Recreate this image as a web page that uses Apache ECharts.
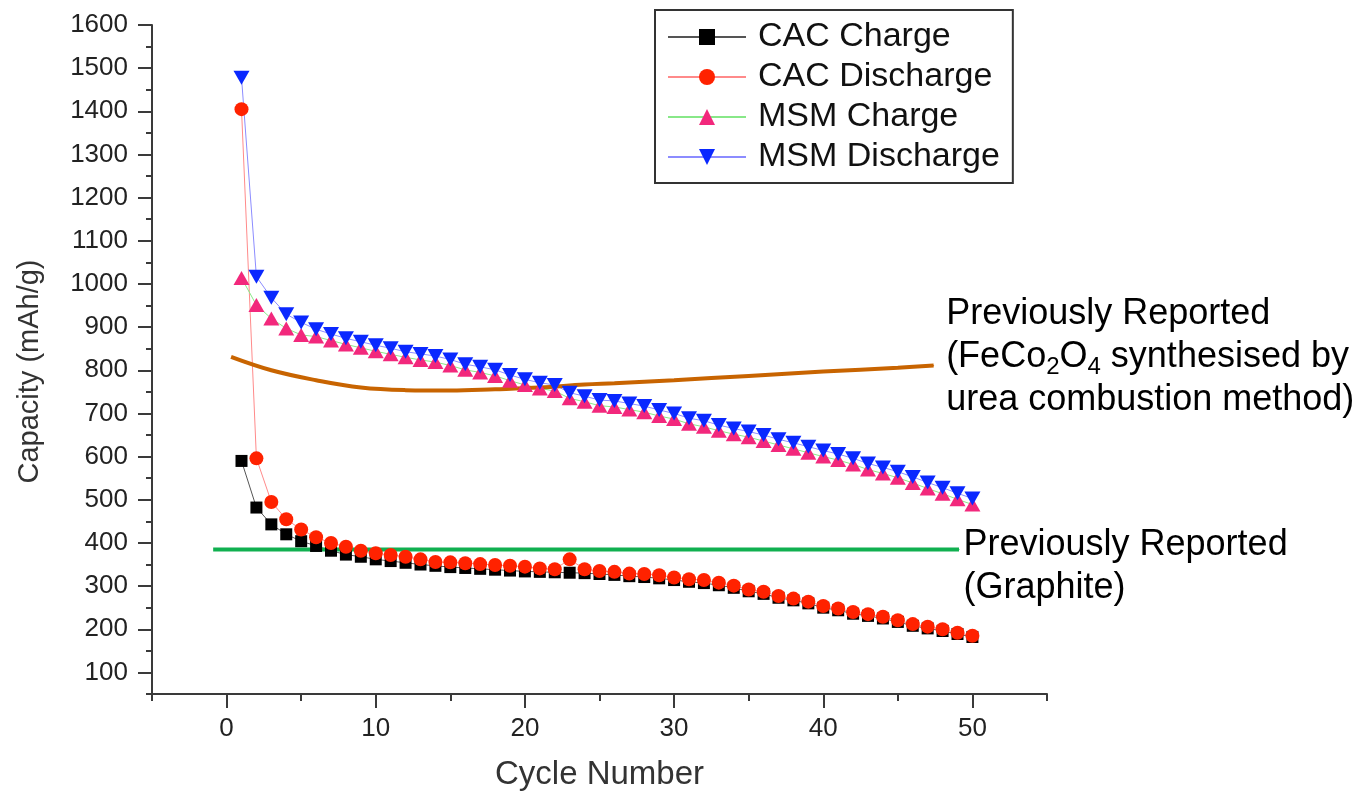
<!DOCTYPE html>
<html>
<head>
<meta charset="utf-8">
<title>Capacity vs Cycle Number</title>
<script src="https://cdn.jsdelivr.net/npm/echarts@6/dist/echarts.min.js"></script>
<style>
    html, body { margin: 0; padding: 0; background: #fff; }
    #main { width: 1370px; height: 796px; }
</style>
</head>
<body>
<div id="main"></div>
<script>
    // cycle numbers
    var cycles = [1, 2, 3, 4, 5, 6, 7, 8, 9, 10, 11, 12, 13, 14, 15, 16, 17, 18, 19, 20,
        21, 22, 23, 24, 25, 26, 27, 28, 29, 30, 31, 32, 33, 34, 35, 36, 37, 38, 39, 40,
        41, 42, 43, 44, 45, 46, 47, 48, 49, 50];

    // capacity (mAh/g)
    var cacCharge = [590, 482, 443, 420, 404, 393, 382, 373, 368, 362, 358, 354, 350, 347, 344, 342, 340, 338, 336, 334,
        333, 332, 331, 330, 328, 326, 323, 321, 318, 314, 310, 307, 302, 296, 288, 282, 273, 267, 260, 250,
        244, 236, 231, 225, 217, 208, 202, 196, 189, 182];
    var cacDischarge = [1405, 596, 495, 455, 431, 413, 400, 391, 382, 376, 372, 368, 362, 356, 355, 353, 351, 349, 347, 345,
        341, 339, 362, 339, 335, 333, 329, 328, 325, 320, 316, 314, 308, 301, 292, 287, 277, 271, 264, 254,
        248, 240, 235, 229, 221, 212, 206, 200, 192, 185];
    var msmCharge = [1014, 951, 920, 897, 882, 878, 869, 860, 852, 844, 837, 830, 824, 819, 811, 801, 795, 787, 776, 766,
        758, 752, 735, 727, 718, 715, 709, 703, 694, 687, 676, 669, 660, 652, 645, 636, 627, 618, 609, 600,
        592, 582, 570, 561, 551, 539, 526, 514, 501, 489];
    var msmDischarge = [1478, 1017, 968, 930, 911, 895, 884, 874, 866, 858, 851, 843, 838, 833, 825, 814, 808, 801, 789, 779,
        771, 766, 748, 740, 731, 729, 723, 717, 708, 700, 689, 683, 673, 665, 658, 650, 640, 632, 623, 614,
        606, 596, 584, 575, 565, 553, 540, 528, 515, 503];

    // reference curves (previously reported)
    var feCoX = [0.3, 3, 6, 9, 12, 15, 18, 21, 24, 26, 30, 35, 40, 45, 47.4];
    var feCoY = [831, 800, 777, 760, 754, 753, 756, 760, 767, 770, 777, 787, 797, 806, 811];
    var graphiteX = [-0.9, 49.1];
    var graphiteY = [385, 385];

    // ticks and labels
    var xLabels = [0, 10, 20, 30, 40, 50];
    var yLabels = [100, 200, 300, 400, 500, 600, 700, 800, 900, 1000, 1100, 1200, 1300, 1400, 1500, 1600];

    var FONT = 'Liberation Sans, Arial, Helvetica, sans-serif';

    function pairs(xs, ys) {
        return xs.map(function (x, i) { return [x, ys[i]]; });
    }

    // last point carries the annotation text
    function withEndText(points, text, labelOpt) {
        var out = points.slice(0, -1);
        var last = points[points.length - 1];
        out.push({
            value: last,
            symbol: 'circle',
            symbolSize: 1,
            label: Object.assign({
                show: true,
                position: 'right',
                formatter: text,
                color: '#000',
                fontFamily: FONT,
                fontSize: 36,
                lineHeight: 43,
                align: 'left',
                rich: {
                    sub: { fontFamily: FONT, fontSize: 24, lineHeight: 24, verticalAlign: 'bottom', color: '#000' }
                }
            }, labelOpt)
        });
        return out;
    }

    function dataSeries(name, values, symbol, size, color, lineColor, rotate) {
        return {
            name: name,
            type: 'line',
            data: pairs(cycles, values),
            symbol: symbol,
            symbolSize: size,
            symbolRotate: rotate || 0,
            itemStyle: { color: color },
            lineStyle: { color: lineColor, width: 1 },
            emphasis: { disabled: true }
        };
    }

    var axisColor = '#3a3a3a';

    var myChart = echarts.init(document.getElementById('main'));

    var option = {
        animation: false,
        textStyle: { fontFamily: FONT },
        grid: { left: 152, right: 323, top: 25, bottom: 102 },
        legend: {
            data: ['CAC Charge', 'CAC Discharge', 'MSM Charge', 'MSM Discharge'],
            orient: 'vertical',
            left: 655,
            top: 10,
            padding: [10, 13, 9, 12],
            itemWidth: 78,
            itemHeight: 20,
            itemGap: 6,
            backgroundColor: '#fff',
            borderColor: '#333',
            borderWidth: 2,
            selectedMode: false,
            textStyle: { fontFamily: FONT, fontSize: 34, lineHeight: 32, color: '#111', padding: [0, 0, 0, 7] }
        },
        xAxis: [{
            type: 'value',
            min: -5,
            max: 55,
            interval: 5,
            position: 'bottom',
            name: 'Cycle Number',
            nameLocation: 'middle',
            nameGap: 64,
            nameTextStyle: { fontFamily: FONT, fontSize: 33, color: '#333' },
            splitLine: { show: false },
            axisLine: { onZero: false, lineStyle: { color: axisColor, width: 2 } },
            axisTick: { length: 7, lineStyle: { color: axisColor, width: 2 } },
            axisLabel: { customValues: xLabels, margin: 22, fontSize: 26, color: '#222', fontFamily: FONT }
        }, {
            // longer major ticks
            type: 'value',
            min: -5,
            max: 55,
            interval: 5,
            position: 'bottom',
            offset: 0,
            splitLine: { show: false },
            axisLine: { show: false, onZero: false },
            axisLabel: { show: false },
            axisTick: { customValues: xLabels, length: 14, lineStyle: { color: axisColor, width: 2 } }
        }],
        yAxis: [{
            type: 'value',
            min: 50,
            max: 1600,
            interval: 50,
            position: 'left',
            name: 'Capacity (mAh/g)',
            nameLocation: 'middle',
            nameGap: 108,
            nameTextStyle: { fontFamily: FONT, fontSize: 29, color: '#333', padding: [0, 24, 0, 0] },
            splitLine: { show: false },
            axisLine: { onZero: false, lineStyle: { color: axisColor, width: 2 } },
            axisTick: { length: 6, lineStyle: { color: axisColor, width: 2 } },
            axisLabel: {
                customValues: yLabels, margin: 24, fontSize: 26, color: '#222', fontFamily: FONT,
                formatter: function (v) { return String(v); }
            }
        }, {
            type: 'value',
            min: 50,
            max: 1600,
            interval: 50,
            position: 'left',
            offset: 0,
            splitLine: { show: false },
            axisLine: { show: false, onZero: false },
            axisLabel: { show: false },
            axisTick: { customValues: yLabels, length: 14, lineStyle: { color: axisColor, width: 2 } }
        }],
        series: [
            dataSeries('CAC Charge', cacCharge, 'rect', 12, '#000000', '#555555'),
            dataSeries('CAC Discharge', cacDischarge, 'circle', 14, '#ff2200', '#ff8a8a'),
            dataSeries('MSM Charge', msmCharge, 'triangle', [16, 14], '#f2287c', '#88e888'),
            dataSeries('MSM Discharge', msmDischarge, 'triangle', [16, 14], '#0a28ff', '#8c8cff', 180),
            {
                name: 'FeCo2O4 reported',
                type: 'line',
                smooth: 0.4,
                symbol: 'none',
                showSymbol: true,
                data: withEndText(pairs(feCoX, feCoY),
                    'Previously Reported\n(FeCo{sub|2}O{sub|4} synthesised by\nurea combustion method)',
                    { distance: 12, offset: [0, -8] }),
                itemStyle: { color: '#c86400' },
                lineStyle: { color: '#c86400', width: 4 },
                emphasis: { disabled: true }
            },
            {
                name: 'Graphite reported',
                type: 'line',
                symbol: 'none',
                showSymbol: true,
                data: withEndText(pairs(graphiteX, graphiteY),
                    'Previously Reported\n(Graphite)',
                    { distance: 4, offset: [0, 17] }),
                itemStyle: { color: '#10b050' },
                lineStyle: { color: '#10b050', width: 4 },
                emphasis: { disabled: true }
            }
        ]
    };

    myChart.setOption(option);
</script>
</body>
</html>
